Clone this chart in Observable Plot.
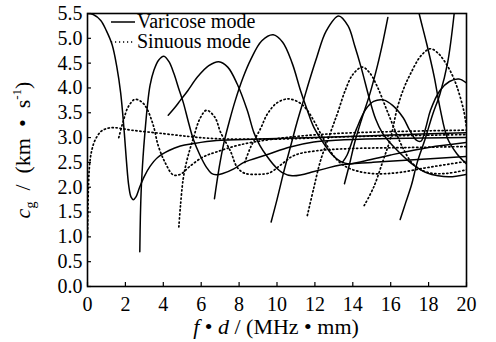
<!DOCTYPE html>
<html><head><meta charset="utf-8">
<script src="https://cdn.jsdelivr.net/npm/d3@7"></script>
<script src="https://cdn.jsdelivr.net/npm/@observablehq/plot@0.6"></script>
<style>body{margin:0;background:#fff} svg text{font-family:"Liberation Serif","Times New Roman","DejaVu Serif",serif !important;}</style>
</head><body><div id="chart"></div>
<script>
const xTicks = [0,2,4,6,8,10,12,14,16,18,20];
const yTicks = [0,0.5,1,1.5,2,2.5,3,3.5,4,4.5,5,5.5];

// Varicose mode (solid)
const V1 = [[0,5.5],[0.3,5.48],[0.7,5.36],[1.0,5.15],[1.3,4.87],[1.55,4.42],[1.75,3.9],[1.92,3.2],[2.05,2.55],[2.18,2.02],[2.3,1.8],[2.42,1.75],[2.55,1.8],[2.75,2.0],[3.0,2.22],[3.3,2.42],[3.7,2.6],[4.3,2.74],[4.9,2.83],[5.6,2.88],[6.8,2.94],[9,2.97],[12,3.0],[16,3.05],[20,3.1]];
const V2 = [[2.76,0.7],[2.79,1.4],[2.84,2.0],[2.93,2.6],[3.03,3.1],[3.15,3.6],[3.3,4.05],[3.5,4.35],[3.75,4.56],[4.03,4.64],[4.3,4.53],[4.56,4.29],[4.82,3.98],[5.06,3.7],[5.3,3.35],[5.58,2.97],[5.93,2.65],[6.28,2.4],[6.54,2.28],[6.8,2.25],[7.1,2.27],[7.72,2.37],[8.25,2.5],[9.5,2.66],[10.7,2.81],[11.94,2.91],[13.35,2.95],[16,2.98],[20,3.0]];
const V3 = [[4.26,3.45],[4.6,3.6],[4.9,3.75],[5.3,3.95],[5.8,4.22],[6.4,4.45],[6.93,4.53],[7.4,4.42],[7.9,4.08],[8.43,3.55],[8.78,3.1],[9.1,2.84],[9.48,2.62],[9.9,2.42],[10.3,2.29],[10.8,2.23],[11.3,2.25],[11.8,2.3],[12.5,2.37],[13.35,2.45],[15,2.5],[17,2.55],[20,2.62]];
const V4 = [[6.7,1.77],[6.95,2.4],[7.2,2.9],[7.5,3.35],[7.8,3.75],[8.2,4.2],[8.6,4.56],[9.2,4.95],[9.8,5.07],[10.3,4.92],[10.8,4.5],[11.24,3.95],[11.6,3.55],[11.94,3.21],[12.47,2.88],[12.9,2.66],[13.35,2.52],[13.8,2.47],[14.5,2.52],[16,2.65],[18,2.8],[20,2.9]];
const V5 = [[9.69,1.3],[10.0,1.75],[10.35,2.3],[10.7,2.8],[11.05,3.3],[11.4,3.75],[11.75,4.2],[12.1,4.62],[12.6,5.15],[13.25,5.45],[13.75,5.25],[14.1,4.85],[14.45,4.4],[14.9,3.75],[15.2,3.38],[15.55,3.1],[16.0,2.88],[16.3,2.76],[16.9,2.54],[17.3,2.42],[17.9,2.29],[18.5,2.23],[19.1,2.21],[20,2.26]];
const V6 = [[13.56,2.07],[13.85,2.5],[14.1,2.9],[14.45,3.35],[14.9,3.88],[15.3,4.45],[15.6,4.95],[15.85,5.42]];
const V7 = [[16.5,1.35],[16.8,1.7],[17.1,2.05],[17.4,2.5],[17.8,2.95],[18.2,3.45],[18.6,3.88],[19.0,4.5],[19.35,5.5]];
const V8 = [[17.3,5.85],[17.5,5.5],[17.9,4.89],[18.3,4.22],[18.6,3.6],[19.0,2.98],[19.5,2.67],[20,2.47]];
const V9 = [[13.45,2.5],[13.7,2.65],[14.2,3.18],[14.7,3.58],[15.1,3.73],[15.6,3.76],[16.1,3.65],[16.66,3.4],[17.0,3.15],[17.35,2.95],[17.6,2.93],[17.85,3.2],[18.1,3.55],[18.6,3.95],[19.1,4.13],[19.6,4.18],[20,4.1]];

// Sinuous mode (dotted)
const S1 = [[0,1.0],[0.02,1.5],[0.05,2.0],[0.1,2.4],[0.2,2.7],[0.4,2.95],[0.7,3.12],[1.0,3.18],[1.4,3.2],[2.3,3.15],[4.0,3.08],[5.4,3.02],[6.7,2.98],[10,2.97],[14,3.02],[20,3.06]];
const S2 = [[1.65,3.0],[1.9,3.35],[2.15,3.62],[2.5,3.77],[2.85,3.72],[3.11,3.6],[3.47,3.25],[3.73,2.84],[4.08,2.51],[4.52,2.25],[4.9,2.26],[5.4,2.42],[6.1,2.61],[6.8,2.71],[8,2.85],[10,2.98],[13,3.08],[20,3.15]];
const S3 = [[4.82,1.2],[4.9,1.6],[5.05,2.17],[5.22,2.5],[5.4,2.76],[5.58,2.98],[5.93,3.38],[6.28,3.55],[6.72,3.41],[7.02,3.11],[7.55,2.72],[7.9,2.4],[8.3,2.28],[9.0,2.26],[9.6,2.29],[10.2,2.45],[10.9,2.64],[12,2.73],[14,2.78],[17,2.8],[20,2.82]];
const S4 = [[8.3,2.5],[8.6,2.8],[9.13,3.18],[9.5,3.48],[10.0,3.7],[10.6,3.78],[11.2,3.7],[11.6,3.55],[12.0,3.3],[12.3,3.08],[12.7,2.8],[13.1,2.58],[13.6,2.42],[14.3,2.32],[15.3,2.27],[16.5,2.3],[18,2.4],[20,2.52]];
const S5 = [[11.6,1.43],[11.95,2.0],[12.3,2.54],[12.8,3.08],[13.2,3.5],[13.6,3.95],[14.0,4.27],[14.5,4.42],[14.9,4.3],[15.3,4.02],[15.8,3.55],[16.3,3.08],[16.7,2.75],[17.1,2.5],[17.6,2.35],[18.2,2.28],[19,2.28],[20,2.35]];
const S6 = [[14.6,1.63],[15.1,2.0],[15.6,2.54],[16.0,3.0],[16.35,3.6],[16.7,4.0],[17.05,4.29],[17.6,4.65],[18.1,4.79],[18.5,4.7],[18.8,4.56],[19.2,4.3],[19.5,4.02],[19.85,3.55],[20,3.2]];

const varicose = [V1,V2,V3,V4,V5,V6,V7,V8,V9];
const sinuous = [S1,S2,S3,S4,S5,S6];

const vRows = [], sRows = [];
varicose.forEach((c,i)=>c.forEach(([x,y])=>vRows.push({x,y,id:"V"+i})));
sinuous.forEach((c,i)=>c.forEach(([x,y])=>sRows.push({x,y,id:"S"+i})));

const W = 496, H = 342, mL = 87, mR = 30, mT = 13, mB = 56;
const fw = W - mL - mR, fh = H - mT - mB;
const font = "'Liberation Serif', 'Times New Roman', 'DejaVu Serif', serif";

const plot = Plot.plot({
  width: W, height: H,
  marginLeft: mL, marginRight: mR, marginTop: mT, marginBottom: mB,
  style: {fontFamily: font, fontSize: "20px", color: "black", background: "white"},
  x: {domain: [0, 20]},
  y: {domain: [0, 5.5]},
  marks: [
    Plot.line(vRows, {x: "x", y: "y", z: "id", stroke: "black", strokeWidth: 1.5, curve: "catmull-rom", clip: true}),
    Plot.line(sRows, {x: "x", y: "y", z: "id", stroke: "black", strokeWidth: 1.7, strokeDasharray: "1.2,2.8", curve: "catmull-rom", clip: true}),
    Plot.frame({stroke: "black", strokeWidth: 1.6}),
    Plot.tickX(xTicks, {x: d => d, stroke: "black", strokeWidth: 1.2, insetTop: fh - 4}),
    Plot.tickY(yTicks, {y: d => d, stroke: "black", strokeWidth: 1.2, insetRight: fw - 4}),
    Plot.axisX({ticks: xTicks, tickSize: 0, tickPadding: 10, label: null, fontSize: 20}),
    Plot.axisY({ticks: yTicks, tickSize: 0, tickPadding: 5, tickFormat: d => d.toFixed(1), label: null, fontSize: 20})
  ]
});

const svg = d3.select(plot);

// Legend
svg.append("line").attr("x1", 111).attr("x2", 135).attr("y1", 22).attr("y2", 22).attr("stroke", "black").attr("stroke-width", 1.5);
svg.append("line").attr("x1", 111).attr("x2", 135).attr("y1", 42).attr("y2", 42).attr("stroke", "black").attr("stroke-width", 1.7).attr("stroke-dasharray", "1.2,2.8");
svg.append("text").attr("x", 137).attr("y", 28).attr("text-anchor", "start").attr("font-family", font).attr("font-size", 20).attr("fill", "black").text("Varicose mode");
svg.append("text").attr("x", 137).attr("y", 48).attr("text-anchor", "start").attr("font-family", font).attr("font-size", 20).attr("fill", "black").text("Sinuous mode");

// X label
const xl = svg.append("text").attr("x", 276).attr("y", 334).attr("text-anchor", "middle").attr("font-family", font).attr("font-size", 22).attr("fill", "black");
xl.append("tspan").attr("font-style", "italic").text("f");
xl.append("tspan").text(" • ");
xl.append("tspan").attr("font-style", "italic").text("d");
xl.append("tspan").text(" / (MHz • mm)");

// Y label
const yl = svg.append("text").attr("transform", "translate(30,150) rotate(-90)").attr("text-anchor", "middle").attr("font-family", font).attr("font-size", 22).attr("fill", "black");
yl.append("tspan").attr("font-style", "italic").text("c");
yl.append("tspan").attr("font-size", 14).attr("dy", 5).text("g");
yl.append("tspan").attr("dy", -5).text("  /  (km  •  s");
yl.append("tspan").attr("font-size", 13).attr("dy", -9).text("-1");
yl.append("tspan").attr("dy", 9).text(")");

document.getElementById("chart").appendChild(plot);
</script>
</body></html>
